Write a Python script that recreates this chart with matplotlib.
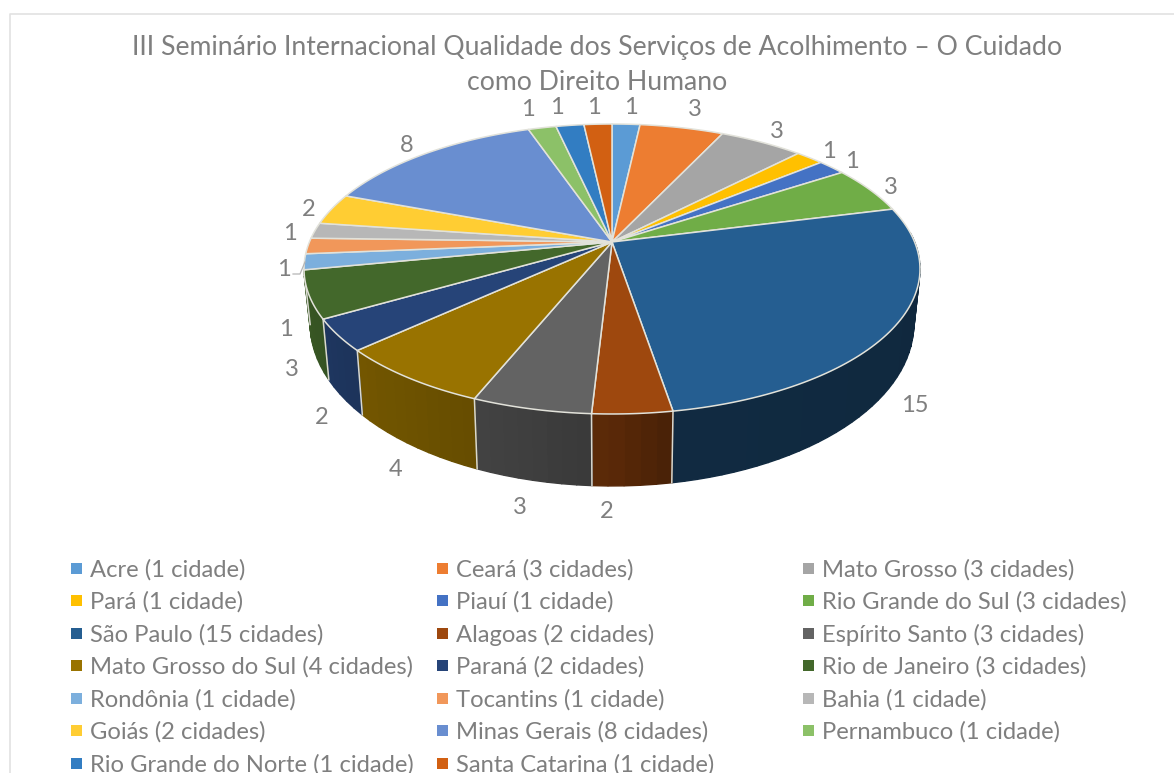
import numpy as np
from matplotlib import pyplot as plt

plt.rcParams['font.family'] = ['Lato', 'DejaVu Sans']

title_lines = ['III Seminário Internacional Qualidade dos Serviços de Acolhimento – O Cuidado',
               'como Direito Humano']
states = ['Acre', 'Ceará', 'Mato Grosso', 'Pará', 'Piauí', 'Rio Grande do Sul', 'São Paulo',
          'Alagoas', 'Espírito Santo', 'Mato Grosso do Sul', 'Paraná', 'Rio de Janeiro',
          'Rondônia', 'Tocantins', 'Bahia', 'Goiás', 'Minas Gerais', 'Pernambuco',
          'Rio Grande do Norte', 'Santa Catarina']
cities = [1, 3, 3, 1, 1, 3, 15, 2, 3, 4, 2, 3, 1, 1, 1, 2, 8, 1, 1, 1]

colors = ['#5B9BD5', '#ED7D31', '#A5A5A5', '#FFC000', '#4472C4', '#70AD47', '#255E91',
          '#9E480E', '#636363', '#997300', '#264478', '#43682B', '#7CAFDD', '#F1975A',
          '#B7B7B7', '#FFCD33', '#698ED0', '#8CC168', '#327DC2', '#D26012']

# where the value labels sit, pixels
label_x = [631, 695, 777, 829, 852, 891, 915, 607, 520, 396, 322, 292, 286, 284, 290, 309, 407, 528, 557, 594]
label_y = [107, 110, 131, 152, 162, 188, 405, 512, 508, 469, 417, 369, 330, 269, 234, 209, 146, 110, 108, 107]

GREY = '#7f7f7f'
CX, CY, R = 612, 242, 302.6
C, A = 0.1862, -94.9
SIDE_END = np.radians(259)


def top_xy(theta):
    # perspective view of the pie top, theta clockwise from 12 o'clock
    u, v = np.sin(theta), np.cos(theta)
    w = 1 + C * v
    return CX + R * u / w, (A * v + CY) / w


def bottom_xy(theta):
    x, y = top_xy(theta)
    return CX + (x - CX) * 0.98, y + 72 - (414 - y) * 0.12


def side_shade(theta):
    return np.interp(np.degrees(theta), [90, 170, 180, 200, 235, 260, 290], [0.42, 0.45, 0.57, 0.66, 0.78, 0.85, 0.85])


def shaded(color, k):
    return tuple(k * int(color[i:i + 2], 16) / 255 for i in (1, 3, 5))


fig = plt.figure(figsize=(11.74, 7.73), dpi=100)
ax = fig.add_axes([0, 0, 1, 1])
ax.set_xlim(0, 1174)
ax.set_ylim(773, 0)
ax.axis('off')

ax.plot([9.5, 9.5, 1174], [773, 13.5, 13.5], color='#e2e2e2', lw=1.2)

edges = np.cumsum([0] + cities) / sum(cities) * 2 * np.pi

# sides first, the top covers the back ones
for i, color in enumerate(colors):
    t = np.linspace(edges[i], edges[i + 1], max(3, int(np.degrees(edges[i + 1] - edges[i]) / 2)))
    for t0, t1 in zip(t[:-1], t[1:]):
        mid = (t0 + t1) / 2
        if np.cos(mid) > 0.06 or mid > SIDE_END:
            continue
        xa, ya = top_xy(np.array([t0, t1]))
        xb, yb = bottom_xy(np.array([t1, t0]))
        ax.fill(np.r_[xa, xb], np.r_[ya, yb], color=shaded(color, side_shade(mid)), lw=1, zorder=2)
for i in range(len(colors)):
    if np.cos(edges[i]) < 0.06 and edges[i] < SIDE_END:
        xa, ya = top_xy(edges[i])
        xb, yb = bottom_xy(edges[i])
        ax.plot([xa, xb], [ya, yb], color='#d8d8d0', lw=1.1, zorder=3)

for i, color in enumerate(colors):
    t = np.linspace(edges[i], edges[i + 1], 80)
    x, y = top_xy(t)
    ax.fill(np.r_[CX, x], np.r_[CY, y], facecolor=color, edgecolor='#e2e2da', lw=1.1, zorder=4)

for v, x, y in zip(cities, label_x, label_y):
    ax.text(x, y, str(v), color=GREY, fontsize=17, ha='center', va='center', zorder=6)

# leader line of the Rondônia label
ax.plot([293, 300, 305], [274, 274, 262], color='#b5b5b5', lw=0.9, zorder=5)

ax.text(597, 47, title_lines[0], color=GREY, fontsize=19.15, ha='center', va='center')
ax.text(597, 83, title_lines[1], color=GREY, fontsize=19.15, ha='center', va='center')

# legend runs row by row
col_x = [76, 442, 808]
for i, (name, n) in enumerate(zip(states, cities)):
    row, col = i // 3, i % 3
    y = 568 + row * 32.5
    word = 'cidade' if n == 1 else 'cidades'
    ax.fill([col_x[col] - 5.5, col_x[col] + 5.5, col_x[col] + 5.5, col_x[col] - 5.5],
            [y - 5.5, y - 5.5, y + 5.5, y + 5.5], color=colors[i], lw=0)
    ax.text(col_x[col] + 14, y + 1.5, f'{name} ({n} {word})', color=GREY, fontsize=17.1, ha='left', va='center')

fig.savefig('out.png', dpi=100)
